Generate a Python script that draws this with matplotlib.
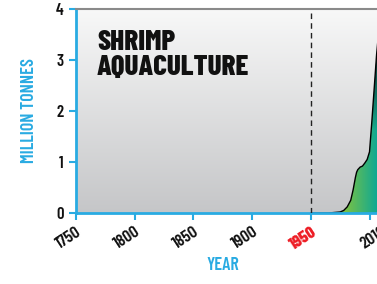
import numpy as np
import matplotlib
matplotlib.use("Agg")
import matplotlib.pyplot as plt
from matplotlib.colors import to_rgb

plt.rcParams['font.family'] = ['Barlow Condensed', 'DejaVu Sans']

years = [1950, 1965, 1970, 1975, 1978, 1981, 1984, 1986, 1988, 1989, 1990,
         1992, 1994, 1996, 1998, 2000, 2002, 2004, 2006, 2007, 2008, 2010]
tonnes = [0, 0, 0.01, 0.02, 0.05, 0.12, 0.25, 0.45, 0.7, 0.8, 0.85,
          0.9, 0.92, 0.98, 1.05, 1.2, 1.8, 2.45, 3.1, 3.35, 3.5, 3.7]
xticks = [1750, 1800, 1850, 1900, 1950, 2000, 2010]
xlabels = ['1750', '1800', '1850', '1900', '1950', '', '2010']
yticks = [0, 1, 2, 3, 4]

blue = '#29abe2'
fig = plt.figure(figsize=(3.77, 2.84), dpi=100)
ax = fig.add_axes([76 / 377, 71 / 284, 317 / 377, 204 / 284])
ax.set_xlim(1750, 2020)
ax.set_ylim(0, 4)

# grey background gradient
bg = np.linspace(0, 1, 256)[:, None]
top, bot = np.array(to_rgb('#f8f8f8')), np.array(to_rgb('#c5c6c8'))
bg_img = bot + (top - bot) * bg[..., None]
bg_img = np.repeat(bg_img, 2, axis=1)
ax.imshow(bg_img, extent=[1750, 2020, 0, 4], origin='lower', aspect='auto', zorder=0)

# area fill gradient, clipped to the data polygon
xs = np.linspace(1960, 2020, 200)
ys = np.linspace(0, 4, 200)
X, Y = np.meshgrid(xs, ys)
green, teal, dark = (np.array(to_rgb(c)) for c in ('#7dc242', '#0ea894', '#0b2e2a'))
t = np.clip((X - 1978) / 28, 0, 1)[..., None]
base = green + (teal - green) * t
d = np.clip((Y - 1.6) / 1.6, 0, 1)[..., None]
img = base + (dark - base) * d
poly = ax.fill_between(years, tonnes, 0, color='none')
im = ax.imshow(img, extent=[1960, 2020, 0, 4], origin='lower', aspect='auto', zorder=1)
im.set_clip_path(poly.get_paths()[0], transform=ax.transData)
ax.plot(years, tonnes, color='black', lw=1, zorder=2)

ax.axvline(1950, color='#222222', lw=1, ls=(0, (4, 3)), zorder=3)

for s in ('left', 'bottom'):
    ax.spines[s].set_color(blue)
    ax.spines[s].set_linewidth(2)
ax.spines['top'].set_color('#8a8a8a')
ax.spines['top'].set_linewidth(1.5)
ax.spines['right'].set_visible(False)

ax.set_xticks(xticks)
ax.set_yticks(yticks)
ax.tick_params(colors=blue, length=5, width=1.5, direction='out')
ax.tick_params(axis='y', pad=4)
ax.tick_params(axis='x', pad=3)
ax.set_yticklabels([str(v) for v in yticks], color='#111111', fontsize=12,
                   fontweight=600)
ax.set_xticklabels(xlabels, color='#111111', fontsize=12.5,
                   fontweight=600, rotation=33, ha='right',
                   rotation_mode='anchor')
for lab in ax.get_xticklabels():
    if lab.get_text() == '1950':
        lab.set_color('#ed1c24')
        lab.set_fontweight(800)

fig.text(29 / 377, 1 - 111 / 284, 'MILLION TONNES', rotation=90, color=blue,
         fontsize=13, fontweight=600, ha='center', va='center')
fig.text(223 / 377, 1 - 265 / 284, 'YEAR', color=blue, fontsize=13,
         fontweight=600, ha='center', va='center')
fig.text(97 / 377, 1 - 30 / 284, 'SHRIMP\nAQUACULTURE', color='#111111',
         fontsize=21, fontweight=800, ha='left', va='top', linespacing=1.0)

fig.savefig('out.png', dpi=100)
